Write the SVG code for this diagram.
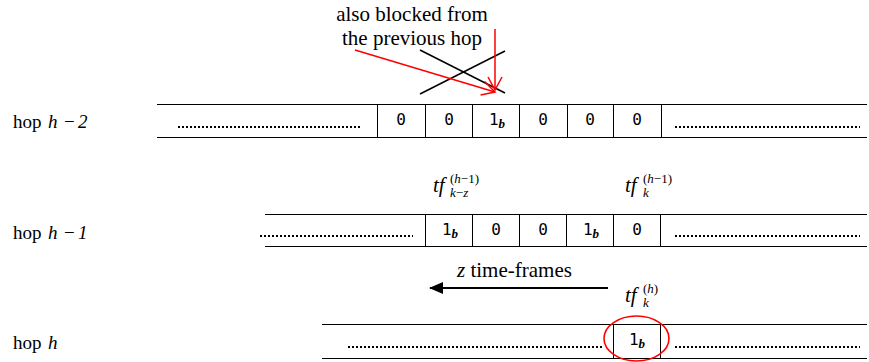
<svg xmlns="http://www.w3.org/2000/svg" width="869" height="362" viewBox="0 0 869 362">
<defs>
<style>
.c{font-family:'DejaVu Sans Mono',monospace;font-size:16px;fill:#000;text-anchor:middle}
.sb{font-family:'Liberation Serif',serif;font-style:italic;font-weight:bold;font-size:13px}
.rl{stroke:#000;stroke-width:1.2;fill:none}
.cl{stroke:#000;stroke-width:1;fill:none}
.dots{stroke:#000;stroke-width:2;stroke-dasharray:2 2;fill:none}
</style>
<marker id="ra" markerWidth="16" markerHeight="16" refX="14" refY="8" orient="auto" markerUnits="userSpaceOnUse">
<path d="M1,1 L14,8 L1,15" fill="none" stroke="#f00" stroke-width="1.5"/>
</marker>
<marker id="ba" markerWidth="14" markerHeight="12" refX="13" refY="6" orient="auto" markerUnits="userSpaceOnUse">
<path d="M0,0 L14,6 L0,12 Z" fill="#000"/>
</marker>
</defs>

<g id="labels" style="font-family:'Liberation Serif',serif;font-size:19px">
<text x="13" y="128">hop <tspan font-style="italic" x="48">h</tspan><tspan x="64">−</tspan><tspan font-style="italic" x="78">2</tspan></text>
<text x="13" y="239">hop <tspan font-style="italic" x="48">h</tspan><tspan x="64">−</tspan><tspan font-style="italic" x="78">1</tspan></text>
<text x="13" y="349">hop <tspan font-style="italic" x="48">h</tspan></text>
</g>

<g id="annotation">
<text x="412" y="21" text-anchor="middle" style="font-family:'Liberation Serif',serif;font-size:21px">also blocked from</text>
<text x="412" y="45" text-anchor="middle" style="font-family:'Liberation Serif',serif;font-size:21px">the previous hop</text>
<line x1="420" y1="50" x2="505" y2="93" stroke="#000" stroke-width="1.5"/>
<line x1="420" y1="94" x2="505" y2="51" stroke="#000" stroke-width="1.5"/>
</g>

<g id="row-h2">
<line class="rl" x1="157" y1="104.5" x2="867" y2="104.5"/>
<line class="rl" x1="157" y1="137.5" x2="867" y2="137.5"/>
<line class="dots" x1="178" y1="127" x2="362" y2="127"/>
<line class="dots" x1="675" y1="127" x2="860" y2="127"/>
<g class="cl"><line x1="377.5" y1="104.5" x2="377.5" y2="137.5"/><line x1="425.5" y1="104.5" x2="425.5" y2="137.5"/><line x1="472.5" y1="104.5" x2="472.5" y2="137.5"/><line x1="519.5" y1="104.5" x2="519.5" y2="137.5"/><line x1="567.5" y1="104.5" x2="567.5" y2="137.5"/><line x1="613.5" y1="104.5" x2="613.5" y2="137.5"/><line x1="661.5" y1="104.5" x2="661.5" y2="137.5"/></g>
<text class="c" x="401" y="125">0</text>
<text class="c" x="449" y="125">0</text>
<text class="c" x="497" y="125">1<tspan class="sb" dy="3">b</tspan></text>
<text class="c" x="543" y="125">0</text>
<text class="c" x="590" y="125">0</text>
<text class="c" x="637" y="125">0</text>
</g>

<g id="row-h1">
<line class="rl" x1="265" y1="214.5" x2="867" y2="214.5"/>
<line class="rl" x1="265" y1="246.5" x2="867" y2="246.5"/>
<line class="dots" x1="260" y1="236" x2="413" y2="236"/>
<line class="dots" x1="675" y1="236" x2="860" y2="236"/>
<g class="cl"><line x1="425.5" y1="214.5" x2="425.5" y2="246.5"/><line x1="472.5" y1="214.5" x2="472.5" y2="246.5"/><line x1="519.5" y1="214.5" x2="519.5" y2="246.5"/><line x1="566.5" y1="214.5" x2="566.5" y2="246.5"/><line x1="613.5" y1="214.5" x2="613.5" y2="246.5"/><line x1="660.5" y1="214.5" x2="660.5" y2="246.5"/></g>
<text class="c" x="450" y="235">1<tspan class="sb" dy="3">b</tspan></text>
<text class="c" x="496" y="235">0</text>
<text class="c" x="543" y="235">0</text>
<text class="c" x="591" y="235">1<tspan class="sb" dy="3">b</tspan></text>
<text class="c" x="637" y="235">0</text>
<g style="font-family:'Liberation Serif',serif;font-style:italic">
<text x="433" y="192" font-size="21">tf</text>
<text x="450" y="197" font-size="13">k<tspan font-style="normal">−</tspan>z</text>
<text x="450" y="183" font-size="13"><tspan font-style="normal">(</tspan>h<tspan font-style="normal">−1)</tspan></text>
<text x="625" y="192" font-size="21">tf</text>
<text x="643" y="197" font-size="13">k</text>
<text x="643" y="183" font-size="13"><tspan font-style="normal">(</tspan>h<tspan font-style="normal">−1)</tspan></text>
</g>
</g>

<g id="row-h">
<line class="rl" x1="322" y1="324.5" x2="867" y2="324.5"/>
<line class="rl" x1="322" y1="358.5" x2="867" y2="358.5"/>
<line class="dots" x1="348" y1="347" x2="602" y2="347"/>
<line class="dots" x1="675" y1="347" x2="860" y2="347"/>
<g class="cl"><line x1="613.5" y1="324.5" x2="613.5" y2="358.5"/><line x1="660.5" y1="324.5" x2="660.5" y2="358.5"/></g>
<text class="c" x="637" y="345">1<tspan class="sb" dy="3">b</tspan></text>
<ellipse cx="636.5" cy="338.5" rx="32.5" ry="22.5" fill="none" stroke="#f00" stroke-width="1.6"/>
<g style="font-family:'Liberation Serif',serif;font-style:italic">
<text x="625" y="302" font-size="21">tf</text>
<text x="643" y="307" font-size="13">k</text>
<text x="643" y="293" font-size="13"><tspan font-style="normal">(</tspan>h<tspan font-style="normal">)</tspan></text>
</g>
<text x="457" y="277" style="font-family:'Liberation Serif',serif;font-size:21px"><tspan font-style="italic">z</tspan> time-frames</text>
</g>

<g id="connectors">
<line x1="355" y1="50" x2="495" y2="92" stroke="#f00" stroke-width="1.5" marker-end="url(#ra)"/>
<line x1="495" y1="29" x2="495" y2="90" stroke="#f00" stroke-width="1.5" marker-end="url(#ra)"/>
<line x1="608" y1="288" x2="430" y2="288" stroke="#000" stroke-width="2" marker-end="url(#ba)"/>
</g>
</svg>
